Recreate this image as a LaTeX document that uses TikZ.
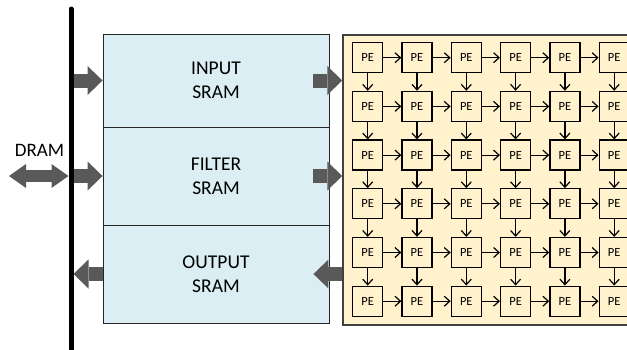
\documentclass[tikz,border=0pt]{standalone}
\usepackage{fontspec}
\setmainfont{Carlito}
\usetikzlibrary{arrows.meta,calc}
\definecolor{sramfill}{RGB}{218,238,243}
\definecolor{pefill}{RGB}{255,242,204}
\definecolor{flowgray}{RGB}{89,89,89}
\definecolor{framegray}{RGB}{64,64,64}
\tikzset{
  sram/.style={draw=black!85, line width=0.9pt, fill=sramfill, minimum width=226pt,
    align=center, font=\fontsize{19.5}{24}\selectfont, inner sep=0pt},
  pe/.style={draw=black, line width=1.3pt, fill=pefill, minimum size=30pt, inner sep=0pt,
    font=\fontsize{12.5}{14}\selectfont},
  link/.style={line width=1.2pt, -{Straight Barb[length=5.5pt,width=10pt]}},
  blockarrow/.style={flowgray, line width=14pt,
    -{Triangle[length=15pt,width=29pt,line width=0pt]}},
  dualarrow/.style={flowgray, line width=12pt,
    {Triangle[length=17pt,width=24pt,line width=0pt]}-{Triangle[length=17pt,width=24pt,line width=0pt]}},
}

\begin{document}
\begin{tikzpicture}[x=1pt,y=-1pt]
  \useasboundingbox (0,0) rectangle (627,349);
  \clip (0,0) rectangle (627,349);

  % --- on-chip buffers ---
  \node[sram, minimum height=93pt] (inbuf)   at (216,80.5) {INPUT\\SRAM};
  \node[sram, minimum height=98pt] (filtbuf) at (216,176)  {FILTER\\SRAM};
  \node[sram, minimum height=98pt] (outbuf)  at (216,274)  {OUTPUT\\SRAM};

  % --- PE array frame (runs off the right edge) ---
  \node[draw=framegray, line width=1.5pt, fill=pefill, minimum width=330pt,
        minimum height=290pt, inner sep=0pt] (pearray) at (508,180) {};

  % 6x6 grid of processing elements
  \foreach \r in {0,...,5}
    \foreach \c in {0,...,5}
      \node[pe] (pe-\r-\c) at (367.7+49.3*\c, 57.7+48.7*\r) {PE};

  % systolic links: left to right, top to bottom
  \foreach \r in {0,...,5}
    \foreach \c [count=\nxt from 1] in {0,...,4}
      \draw[link] (pe-\r-\c) -- (pe-\r-\nxt);
  \foreach \c in {0,...,5}
    \foreach \r [count=\nxt from 1] in {0,...,4}
      \draw[link] (pe-\r-\c) -- (pe-\nxt-\c);

  % --- memory bus ---
  \coordinate (bustop) at (71,9);
  \coordinate (busbot) at (71,355);
  \coordinate (dramend) at (9,176);

  % bus <-> buffers
  \draw[blockarrow] (bustop |- inbuf.west) -- (inbuf.west);
  \draw[blockarrow] (bustop |- filtbuf.west) -- (filtbuf.west);
  \draw[blockarrow, shorten >=2.5pt] (outbuf.west) -- (bustop |- outbuf.west);

  % buffers <-> array
  \draw[blockarrow] ([xshift=-16pt]inbuf.east) -- (inbuf.east -| pearray.west);
  \draw[blockarrow] ([xshift=-16pt]filtbuf.east) -- (filtbuf.east -| pearray.west);
  \draw[blockarrow] (outbuf.east -| pearray.west) -- ([xshift=-16pt]outbuf.east);

  % off-chip memory
  \draw[dualarrow, shorten >=2.5pt] (dramend) -- (dramend -| bustop);
  \node[font=\fontsize{19}{22}\selectfont] (dram) at (39.5,150) {DRAM};

  \draw[line width=5pt, line cap=round] (bustop) -- (busbot);
\end{tikzpicture}
\end{document}
